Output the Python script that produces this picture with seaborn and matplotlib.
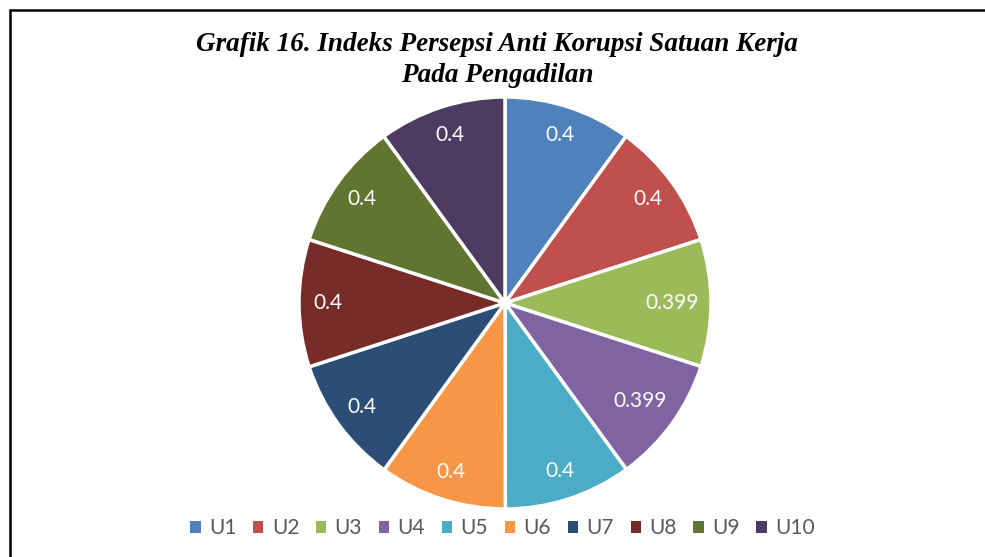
import numpy as np
import matplotlib
matplotlib.use("Agg")
import matplotlib.pyplot as plt
import seaborn as sns
from matplotlib.lines import Line2D
from matplotlib.patches import Patch

categories = ["U1", "U2", "U3", "U4", "U5", "U6", "U7", "U8", "U9", "U10"]
values = [0.4, 0.4, 0.399, 0.399, 0.4, 0.4, 0.4, 0.4, 0.4, 0.4]
value_labels = ["0.4", "0.4", "0.399", "0.399", "0.4", "0.4", "0.4", "0.4", "0.4", "0.4"]
colors = ["#4F81BD", "#C0504D", "#9BBB59", "#8064A2", "#4BACC6",
          "#F79646", "#2C4D75", "#772C2A", "#5F7530", "#4D3B62"]
title = "Grafik 16. Indeks Persepsi Anti Korupsi Satuan Kerja\nPada Pengadilan"

sns.set_theme(style="white")
plt.rcParams["font.family"] = ["Lato", "DejaVu Sans"]

W, H = 985, 557
fig = plt.figure(figsize=(W / 100, H / 100), dpi=100)
fig.patch.set_facecolor("white")

cx, cy, r = 505, 303, 206
ax = fig.add_axes([(cx - r) / W, (H - cy - r) / H, 2 * r / W, 2 * r / H])
wedges, texts = ax.pie(values, labels=value_labels, colors=colors, startangle=90,
                       counterclock=False, labeldistance=0.86,
                       wedgeprops=dict(edgecolor="white", linewidth=2.5),
                       textprops=dict(color="white", fontsize=15,
                                      family=["Lato", "DejaVu Sans"]))
for w, t, lab in zip(wedges, texts, value_labels):
    ang = np.deg2rad((w.theta1 + w.theta2) / 2)
    d = 0.81 if len(lab) > 3 else 0.86
    t.set_position((d * np.cos(ang), d * np.sin(ang)))
    t.set_ha("center")
    t.set_va("center")
ax.set_xlim(-1, 1)
ax.set_ylim(-1, 1)
ax.set_aspect("equal")
ax.axis("off")

fig.text(0.505, 1 - 60 / H, title, ha="center", va="center", fontsize=19.5,
         fontweight="bold", fontstyle="italic", linespacing=1.3,
         family=["Liberation Serif", "DejaVu Serif"], color="black")

handles = [Patch(facecolor=c, edgecolor="none") for c in colors]
fig.legend(handles, categories, loc="center", bbox_to_anchor=(0.51, 1 - 528 / H),
           ncol=10, frameon=False, fontsize=15, handlelength=0.5, handleheight=0.5,
           handletextpad=0.4, columnspacing=0.8, labelcolor="#595959")

fig.add_artist(Line2D([10 / W, 1.0], [1 - 10 / H, 1 - 10 / H], transform=fig.transFigure,
                      color="black", linewidth=1.8))
fig.add_artist(Line2D([10 / W, 10 / W], [1 - 10 / H, 0], transform=fig.transFigure,
                      color="black", linewidth=1.8))

fig.savefig("out.png", dpi=100, facecolor="white")
